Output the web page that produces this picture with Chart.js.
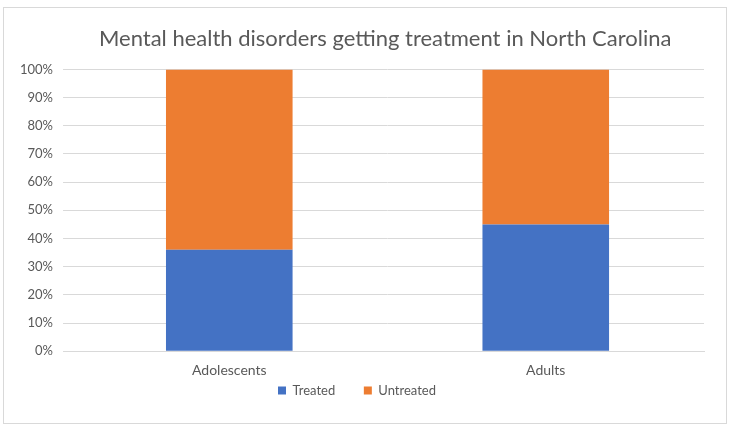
<!DOCTYPE html>
<html>
<head>
<meta charset="utf-8">
<script src="https://cdn.jsdelivr.net/npm/chart.js@4/dist/chart.umd.min.js"></script>
<style>
  body { margin: 0; background: #fff; }
  #box { position: absolute; left: 3px; top: 7px; width: 724px; height: 417px; border: 1px solid #d9d9d9; box-sizing: border-box; }
</style>
</head>
<body>
<div id="box"><canvas id="chart"></canvas></div>
<script>
// Chart data
const categories = ['Adolescents', 'Adults'];
const treated = [36, 45];
const untreated = [64, 55];

const FONT = 'Lato, "Open Sans", sans-serif';
const GREY = '#595959';

new Chart(document.getElementById('chart'), {
    type: 'bar',
    data: {
        labels: categories,
        datasets: [
            { label: 'Treated', data: treated, backgroundColor: '#4472c4', barPercentage: 0.8, categoryPercentage: 0.5 },
            { label: 'Untreated', data: untreated, backgroundColor: '#ed7d31', barPercentage: 0.8, categoryPercentage: 0.5 }
        ]
    },
    options: {
        responsive: true,
        maintainAspectRatio: false,
        animation: false,
        layout: { padding: { left: 6, right: 22, top: 18, bottom: 16 } },
        plugins: {
            title: {
                display: true,
                // leading spaces nudge the title right like the original
                text: '          Mental health disorders getting treatment in North Carolina',
                color: GREY,
                font: { family: FONT, size: 22, weight: 'normal' },
                padding: { top: 0, bottom: 17 }
            },
            legend: {
                position: 'bottom',
                labels: {
                    color: GREY,
                    font: { family: FONT, size: 13 },
                    boxWidth: 8,
                    boxHeight: 8,
                    padding: 2,
                    // widen the gap between the two entries without extra vertical space
                    generateLabels: chart => Chart.defaults.plugins.legend.labels.generateLabels(chart)
                        .map((item, i) => ({ ...item, text: i === 0 ? item.text + '        ' : item.text }))
                }
            },
            tooltip: { enabled: false }
        },
        scales: {
            x: {
                stacked: true,
                grid: { display: false },
                border: { color: '#d9d9d9' },
                ticks: { color: GREY, font: { family: FONT, size: 14 }, padding: 3 }
            },
            y: {
                stacked: true,
                min: 0,
                max: 100,
                grid: { color: '#d9d9d9' },
                border: { display: false },
                ticks: {
                    stepSize: 10,
                    color: GREY,
                    font: { family: FONT, size: 13 },
                    padding: 10,
                    callback: v => v + '%'
                }
            }
        }
    }
});
</script>
</body>
</html>
